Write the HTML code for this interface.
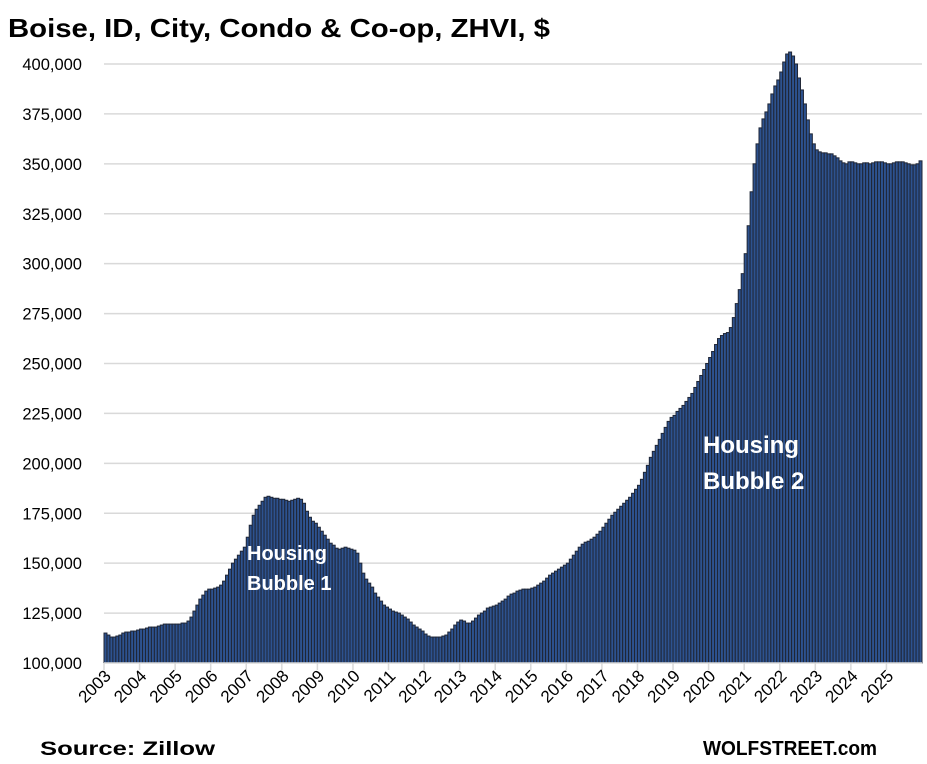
<!DOCTYPE html>
<html><head><meta charset="utf-8">
<style>
body{margin:0;background:#fff;}
svg{display:block;font-family:"Liberation Sans",Arial,sans-serif;}
</style></head>
<body>
<svg id="chart" width="927" height="764" viewBox="0 0 927 764">
<text x="8" y="37" font-size="26" font-weight="bold" fill="#000" textLength="542" lengthAdjust="spacingAndGlyphs">Boise, ID, City, Condo &amp; Co-op, ZHVI, $</text>
<g id="grid"></g>
<g id="bars"></g>
<g id="axes"></g>
<text fill="#fff" font-weight="bold" font-size="20"><tspan x="247" y="560">Housing</tspan><tspan x="247" y="590">Bubble 1</tspan></text>
<text fill="#fff" font-weight="bold" font-size="24"><tspan x="703" y="453">Housing</tspan><tspan x="703" y="489">Bubble 2</tspan></text>
<text x="40" y="755" font-size="19" font-weight="bold" textLength="175" lengthAdjust="spacingAndGlyphs">Source: Zillow</text>
<text x="703" y="755" font-size="20" font-weight="bold" textLength="174" lengthAdjust="spacingAndGlyphs">WOLFSTREET.com</text>
</svg>
<script>
const years=["2003","2004","2005","2006","2007","2008","2009","2010","2011","2012","2013","2014","2015","2016","2017","2018","2019","2020","2021","2022","2023","2024","2025"];
const yTicks=[100000,125000,150000,175000,200000,225000,250000,275000,300000,325000,350000,375000,400000];
const yTickLabels=["100,000","125,000","150,000","175,000","200,000","225,000","250,000","275,000","300,000","325,000","350,000","375,000","400,000"];
const values=[
115,114,113,113,113.5,114,115,115.5,115.5,116,116,116.5,
117,117,117.5,118,118,118,118.5,119,119.5,119.5,119.5,119.5,
119.5,119.5,120,120,121,123,126,129,132,134,136,137,
137,137.5,138,139,141,144,147,150,152,154,156,158,
163,169,174,177,179,181,183,183.5,183,182.5,182.5,182,
182,181.5,181,181.5,182,182.5,182,180,176,173,171,170,
168,166,164,162,160,159,157.5,157,157.5,158,157.5,157,
156.5,155,150,145,142,140,138,135,133,131,129,128,
127,126,125.5,125,124,123,122,120.5,119,118,117,116,
114.5,113.5,113,113,113,113,113.5,114,115.5,117,119,120.5,
121.5,121,120,120,121,122.5,124,125,126,127.5,128,128.5,
129,130,131,132,133.5,134.5,135,136,136.5,137,137,137,
137.5,138,139,140,141,142.5,144,145,146,147,148,149,
150,152,154,156,158,159.5,160.5,161,162,163,164.5,166,
168,170,172,174,175.5,177,178.5,180,181.5,183,185,187,
189,192,195.5,199,203,206,209,212,215,218,221,223,
224,226,227.5,229,231,233,235,238,241,244,247,250,
253,256,259.5,262.5,264,265,265.5,268,273,280,287,295,
305,319,336,350,360,368,372.5,376,380,385,389,392,
396,401,405,406,404,400,393,387,380,372,365,360,
357,356,355.5,355.5,355,355,354,353,351.5,350.5,350,351,
351,350.5,350,350,350.5,350.5,350,350.5,351,351,351,350.5,
350,350,350.5,351,351,351,350.5,350,349.5,349.5,350,351.5
].map(v=>v*1000);

const NS="http://www.w3.org/2000/svg";
const X0=104,X1=922,Y0=663,Y1=64,VMIN=100000,VMAX=400000;
const N=values.length,bw=(X1-X0)/N;
function yScale(v){return Y0-(v-VMIN)/(VMAX-VMIN)*(Y0-Y1);}
function xScale(i){return X0+i*bw;}
function mk(tag,attrs,parent){const e=document.createElementNS(NS,tag);for(const k in attrs)e.setAttribute(k,attrs[k]);parent.appendChild(e);return e;}
const grid=document.getElementById('grid'),bars=document.getElementById('bars'),axes=document.getElementById('axes');
yTicks.forEach((t,i)=>{
  const y=yScale(t);
  if(i>0){const l=mk('line',{x1:X0,x2:X1,y1:y,y2:y,stroke:'#d9d9d9','stroke-width':1.5},grid);
  
  }
  const tx=mk('text',{x:82,y:y+6,'font-size':16.5,'text-anchor':'end',fill:'#000'},axes);
  tx.textContent=yTickLabels[i];
  
  
});
values.forEach((v,i)=>{
  const y=yScale(v);
  const r=mk('rect',{x:xScale(i),y:y,width:bw,height:Y0-y,fill:'#2d528f',stroke:'#1f2636','stroke-width':1},bars);
  
  
});
const ax=mk('line',{x1:X0,x2:X1,y1:Y0,y2:Y0,stroke:'#d9d9d9','stroke-width':1.5},axes);


years.forEach((yr,i)=>{
  const x=xScale(i*12);
  const tk=mk('line',{x1:x,x2:x,y1:Y0,y2:Y0+7,stroke:'#d9d9d9','stroke-width':1.5},axes);
  
  
  const t=mk('text',{x:x+8,y:Y0+14,'font-size':17,'text-anchor':'end',transform:`rotate(-45 ${x+8} ${Y0+14})`},axes);
  t.textContent=yr;
  
  
});
</script>
</body></html>
